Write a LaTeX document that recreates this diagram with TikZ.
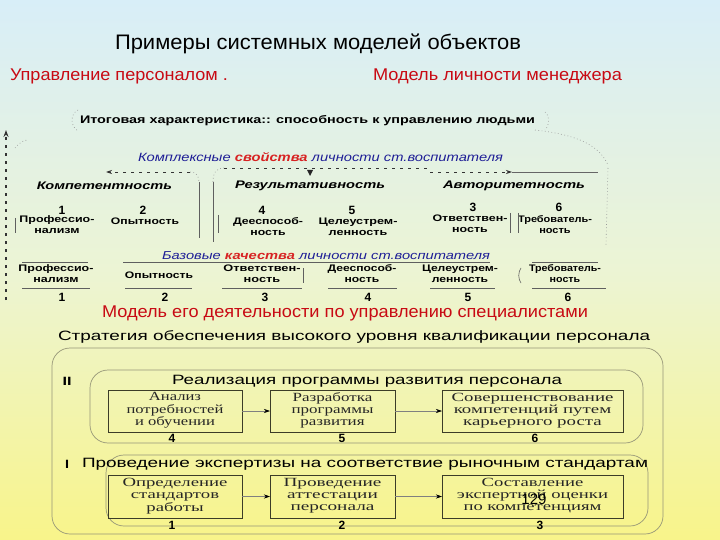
\documentclass[tikz,border=0pt]{standalone}
\usepackage{fontspec}
\setmainfont{Liberation Sans}
\newfontfamily\boxfont{Liberation Serif}
\usetikzlibrary{arrows.meta}
\definecolor{bgtop}{RGB}{216,238,248}
\definecolor{bgmid}{RGB}{236,244,212}
\definecolor{bgbot}{RGB}{248,244,138}
\definecolor{redtxt}{RGB}{200,10,20}
\definecolor{bluetxt}{RGB}{30,30,150}
\definecolor{redbold}{RGB}{215,35,35}
\definecolor{linegray}{RGB}{95,95,95}
\definecolor{framegray}{RGB}{150,150,120}
\definecolor{boxline}{RGB}{60,60,40}
\newcommand\fw[2]{\resizebox{#1}{\height}{#2}}
\newcommand\ml[2]{\resizebox{#1}{\height}{\begin{tabular}{@{}c@{}}#2\end{tabular}}}
\begin{document}
\begin{tikzpicture}[x=1pt,y=-1pt,
  every node/.style={inner sep=0pt,outer sep=0pt},
  hd/.style={font=\fontsize{21}{21}\selectfont},
  redhd/.style={anchor=west,text=redtxt,font=\fontsize{17}{17}\selectfont},
  grp/.style={anchor=west,font=\fontsize{11}{11}\selectfont\bfseries\itshape},
  lab/.style={font=\fontsize{9.5}{11}\selectfont\bfseries},
  num/.style={font=\fontsize{12}{12}\selectfont\bfseries},
  wide/.style={anchor=west,font=\fontsize{13.5}{13.5}\selectfont},
  boxr/.style={draw=boxline,line width=1pt,font=\fontsize{12.5}{12}\selectfont\boxfont,text=black!85},
  rule/.style={draw=linegray,line width=0.6pt},
  dsh/.style={draw=black!80,line width=0.8pt,dash pattern=on 3pt off 5pt},
  dots/.style={draw=black!40,line width=0.6pt,dash pattern=on 0.8pt off 2.5pt},
  frame/.style={draw=framegray,line width=0.7pt,rounded corners=18pt},
  arr/.style={draw=black!50,line width=0.6pt,-{Stealth[length=6pt,width=4pt,color=black]}}
]
\shade[top color=bgtop,bottom color=bgbot,middle color=bgmid] (0,0) rectangle (720,540);
\useasboundingbox (0,0) rectangle (720,540);

% headings
\node[hd,anchor=west] (title) at (115,44) {\fw{406pt}{Примеры системных моделей объектов}};
\node[redhd] (hl) at (10,76) {\fw{218pt}{Управление персоналом .}};
\node[redhd] (hr) at (373,76) {\fw{249pt}{Модель личности менеджера}};

% personality model
\node[anchor=west,font=\fontsize{11}{11}\selectfont\bfseries] (itog) at (80,121)
  {\fw{455pt}{Итоговая характеристика:: способность к управлению людьми}};
\node[anchor=west,font=\fontsize{12}{12}\selectfont\itshape,text=bluetxt] (kompl) at (138,157)
  {\fw{365pt}{Комплексные \textcolor{redbold}{\bfseries свойства} личности ст.воспитателя}};

\node[grp] (g1) at (37,186) {\fw{135pt}{Компетентность}};
\node[grp] (g2) at (235,186) {\fw{150pt}{Результативность}};
\node[grp] (g3) at (443,186) {\fw{142pt}{Авторитетность}};

\node[num] (a1) at (62,210) {1};
\node[num] (a2) at (143,210) {2};
\node[num] (a4) at (262,210) {4};
\node[num] (a5) at (352,210) {5};
\node[num] (a3) at (473,207) {3};
\node[num] (a6) at (559,207) {6};
\node[lab] (p1) at (57,226) {\ml{75pt}{Профессио-\\нализм}};
\node[lab] (p2) at (145,221) {\fw{68pt}{Опытность}};
\node[lab] (p4) at (268,228) {\ml{70pt}{Дееспособ-\\ность}};
\node[lab] (p5) at (358,228) {\ml{79pt}{Целеустрем-\\ленность}};
\node[lab] (p3) at (470,225) {\ml{75pt}{Ответствен-\\ность}};
\node[lab] (p6) at (555,226) {\ml{74pt}{Требователь-\\ность}};

\node[anchor=west,font=\fontsize{11.5}{11.5}\selectfont\itshape,text=bluetxt] (baz) at (162,256)
  {\fw{328pt}{Базовые \textcolor{redbold}{\bfseries качества} личности ст.воспитателя}};

\node[lab] (q1) at (56,275) {\ml{75pt}{Профессио-\\нализм}};
\node[lab] (q2) at (159,275) {\fw{68pt}{Опытность}};
\node[lab] (q3) at (262,275) {\ml{77pt}{Ответствен-\\ность}};
\node[lab] (q4) at (362,275) {\ml{69pt}{Дееспособ-\\ность}};
\node[lab] (q5) at (460,275) {\ml{76pt}{Целеустрем-\\ленность}};
\node[lab] (q6) at (565,275) {\ml{72pt}{Требователь-\\ность}};
\node[num] (b1) at (62,297) {1};
\node[num] (b2) at (165,297) {2};
\node[num] (b3) at (265,297) {3};
\node[num] (b4) at (368,297) {4};
\node[num] (b5) at (468,297) {5};
\node[num] (b6) at (568,297) {6};

% rules of the base row
\draw[rule] (22,262) -- (88,262);
\draw[rule] (123,262) -- (190,262);
\draw[rule] (160,262) -- (490,262);
\draw[rule] (532,262) -- (598,262);
\draw[rule] (22,288) -- (90,288);
\draw[rule] (125,288) -- (192,288);
\draw[rule] (222,288) -- (302,288);
\draw[rule] (328,288) -- (397,288);
\draw[rule] (430,288) -- (495,288);
\draw[rule] (532,288) -- (606,288);
\draw[rule] (303,268) -- (303,283);
\draw[rule] (521,268) .. controls (518,272) and (518,279) .. (521,283);
\draw[rule] (15,218) -- (15,233);
\draw[rule] (218,215) -- (218,233);
\draw[rule] (510,213) -- (510,233);
\draw[rule] (518,213) -- (518,233);
\draw[rule] (199,182) -- (199,238);
\draw[rule] (213,182) -- (213,242);

% connectors of the personality model
\draw[dsh,line width=1.1pt,-{Stealth[length=7pt,width=5pt]}] (6,300) -- (6,130);
\draw[dots] (190,172) .. controls (196,172) and (199,176) .. (199,182);
\draw[dots] (213,182) .. controls (213,173) and (216,168) .. (224,168);
\draw[dsh,-{Stealth[length=6pt,width=4pt]}] (190,172) -- (106,172);
\draw[dsh] (224,168) -- (428,168);
\draw[dsh,-{Stealth[length=6pt,width=4pt]}] (430,172) -- (512,172);
\draw[draw=black!60,line width=0.6pt] (512,172) -- (598,172);
\fill[black!85] (307,170) -- (313,170) -- (310,176) -- cycle;
\draw[dots] (78,110) .. controls (70,114) and (70,126) .. (78,131);
\draw[dots] (545,112) .. controls (550,116) and (550,124) .. (545,130);
\draw[dots] (535,130) .. controls (570,134) and (598,142) .. (608,165);
\draw[dots] (608,168) -- (606,245);
\draw[dots] (15,148) .. controls (20,142) and (24,140) .. (28,140);

% activity model
\node[redhd] (hm) at (102,313) {\fw{486pt}{Модель его деятельности по управлению специалистами}};
\node[wide] (strat) at (58,337) {\fw{592pt}{Стратегия обеспечения высокого уровня квалификации персонала}};
\draw[frame] (52,348) rectangle (663,534);
\draw[frame] (90,370) rectangle (643,443);
\draw[frame] (106,455) rectangle (648,526);
\node[num,font=\fontsize{12}{12}\selectfont\bfseries] (r2) at (67,381) {\fw{9pt}{II}};
\node[wide] (real) at (172,381) {\fw{390pt}{Реализация программы развития персонала}};
\node[num] (r1) at (67,464) {\fw{4pt}{I}};
\node[wide] (prov) at (82,464) {\fw{566pt}{Проведение экспертизы на соответствие рыночным стандартам}};

\node[boxr,minimum width=134pt,minimum height=42pt] (x4) at (175,411) {\ml{97pt}{Анализ\\потребностей\\и обучении}};
\node[boxr,minimum width=125pt,minimum height=42pt] (x5) at (332.5,411) {\ml{82pt}{Разработка\\программы\\развития}};
\node[boxr,minimum width=181pt,minimum height=42pt] (x6) at (532.5,411) {\ml{162pt}{Совершенствование\\компетенций путем\\карьерного роста}};
\node[boxr,minimum width=134pt,minimum height=43pt] (x1) at (175,496.5) {\ml{105pt}{Определение\\стандартов\\работы}};
\node[boxr,minimum width=125pt,minimum height=43pt] (x2) at (332.5,496.5) {\ml{98pt}{Проведение\\аттестации\\персонала}};
\node[boxr,minimum width=181pt,minimum height=43pt] (x3) at (532.5,496.5) {\ml{151pt}{Составление\\экспертной оценки\\по компетенциям}};
\draw[arr] (x4) -- (x5);
\draw[arr] (x5) -- (x6);
\draw[arr] (x1) -- (x2);
\draw[arr] (x2) -- (x3);

\node[num] (m4) at (172,438) {4};
\node[num] (m5) at (342,438) {5};
\node[num] (m6) at (535,438) {6};
\node[num] (m1) at (172,525) {1};
\node[num] (m2) at (342,525) {2};
\node[num] (m3) at (540,525) {3};
\node[font=\fontsize{15}{15}\selectfont] (pg) at (534,499) {129};
\end{tikzpicture}
\end{document}
